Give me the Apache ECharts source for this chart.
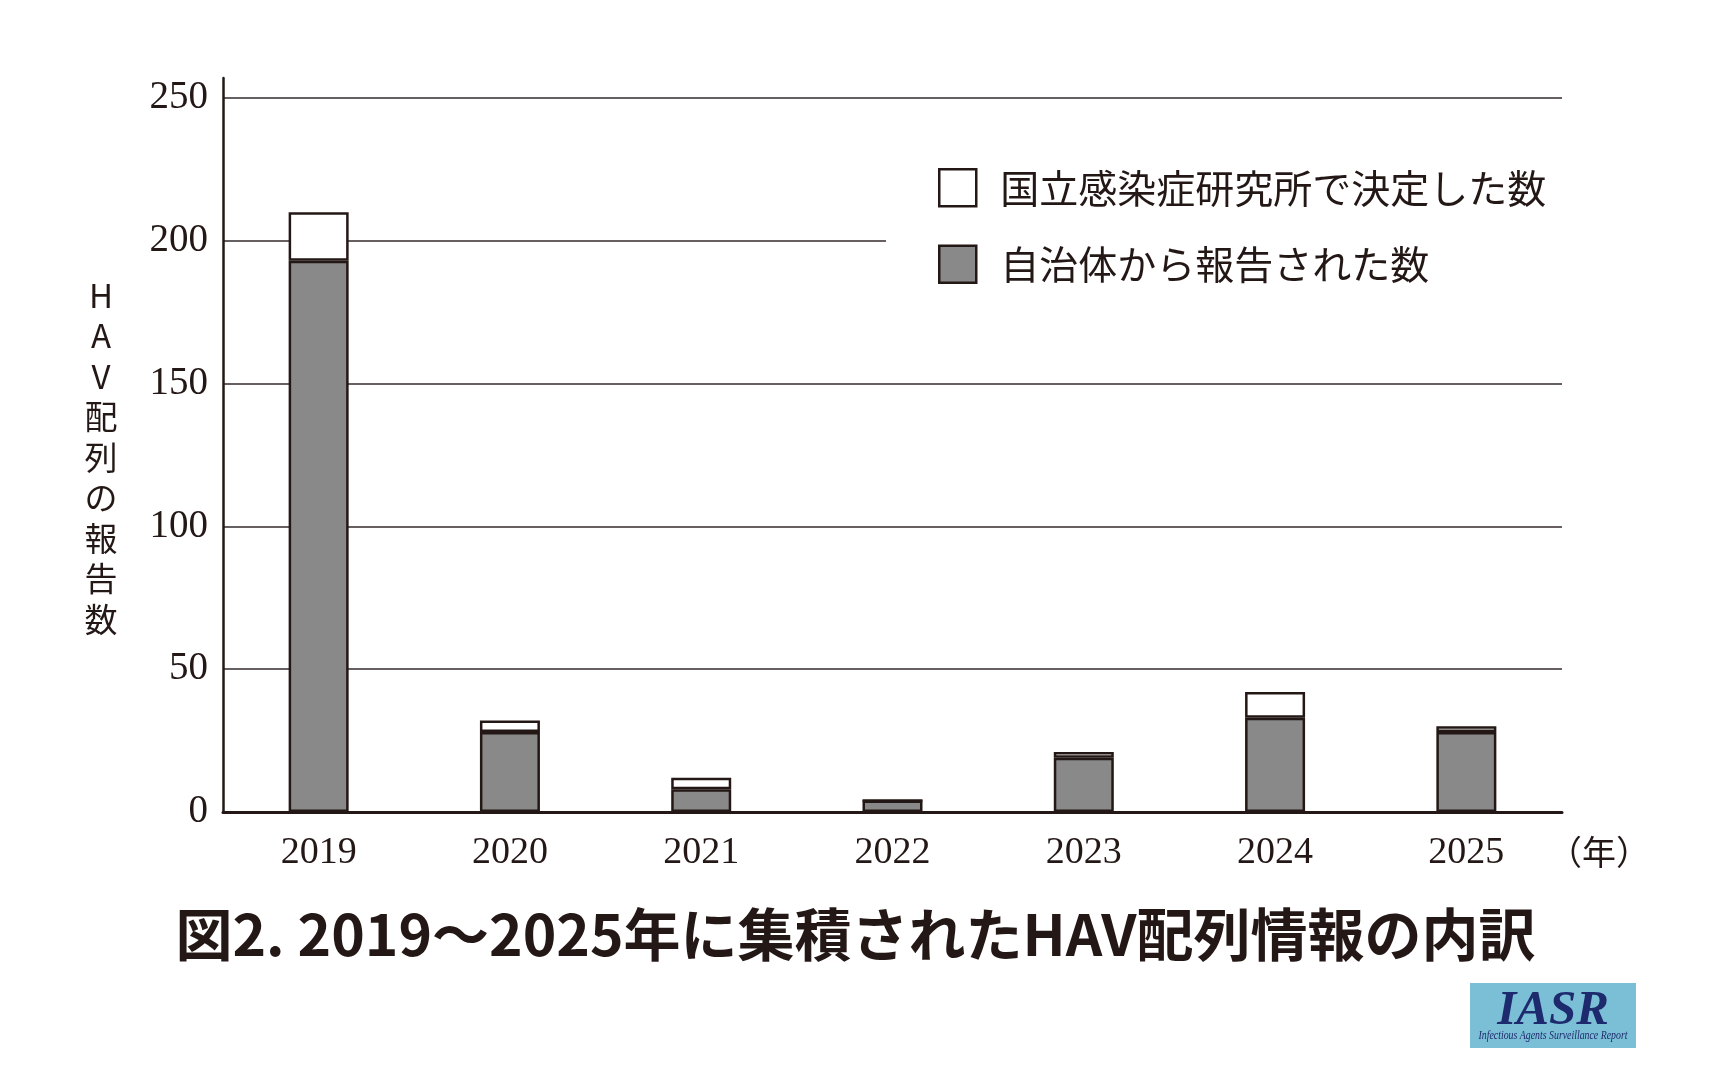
<!DOCTYPE html>
<html>
<head>
<meta charset="utf-8">
<script src="https://cdn.jsdelivr.net/npm/echarts@6/dist/echarts.min.js"></script>
<style>
html,body{margin:0;padding:0;background:#fff;}
#chart{width:1711px;height:1080px;}
</style>
</head>
<body>
<div id="chart"></div>
<script>
// ---- data ----
var years = ['2019', '2020', '2021', '2022', '2023', '2024', '2025'];
var municipalCounts = [193, 28, 8, 4, 19, 33, 28];   // 自治体から報告された数
var niidCounts = [17, 4, 4, 0, 2, 9, 2];             // 国立感染症研究所で決定した数
var yTicks = [0, 50, 100, 150, 200, 250];
var seriesNames = ['国立感染症研究所で決定した数', '自治体から報告された数'];
var titleText = '図2. 2019～2025年に集積されたHAV配列情報の内訳';
var yAxisName = 'HAV配列の報告数';
var xAxisName = '（年）';

var ink = '#231815';
var cjk = '"Noto Sans CJK JP", "Noto Sans", sans-serif';
var serif = '"Liberation Serif", "DejaVu Serif", serif';

var chart = echarts.init(document.getElementById('chart'), null, {renderer: 'canvas'});
chart.setOption({
  backgroundColor: '#fff',
  animation: false,
  title: {
    text: titleText,
    left: 'center',
    top: 901,
    textStyle: {fontFamily: cjk, fontSize: 57, fontWeight: 'bold', color: ink, lineHeight: 57}
  },
  legend: {
    orient: 'vertical',
    left: 886,
    top: 138,
    padding: [30, 40, 30, 52],
    backgroundColor: '#fff',
    itemWidth: 37,
    itemHeight: 37,
    itemGap: 37,
    icon: 'rect',
    data: seriesNames,
    textStyle: {fontFamily: cjk, fontSize: 39, color: ink, padding: [0, 0, 0, 19]},
    itemStyle: {borderColor: ink, borderWidth: 2.5}
  },
  grid: {left: 223, right: 149, top: 78, bottom: 268, containLabel: false, outerBoundsMode: 'none'},
  xAxis: {
    type: 'category',
    data: years,
    boundaryGap: true,
    axisLine: {lineStyle: {color: ink, width: 3}},
    axisTick: {show: false},
    axisLabel: {fontFamily: serif, fontSize: 38, color: ink, margin: 22},
    name: xAxisName,
    nameLocation: 'end',
    nameGap: -14,
    nameTextStyle: {fontFamily: cjk, fontSize: 34, color: ink, align: 'left', verticalAlign: 'top', padding: [23, 0, 0, 0]}
  },
  yAxis: {
    type: 'value',
    min: yTicks[0],
    max: 257,
    interval: yTicks[1] - yTicks[0],
    axisLine: {show: true, lineStyle: {color: ink, width: 2.5}},
    axisTick: {show: false},
    axisLabel: {fontFamily: serif, fontSize: 39, color: ink, margin: 15, showMaxLabel: false,
      formatter: function (v) { return yTicks.indexOf(v) >= 0 ? String(v) : ''; }},
    splitLine: {show: true, showMaxLine: false, lineStyle: {color: '#332d2b', width: 1.6}}
  },
  series: [
    {
      name: seriesNames[1],
      type: 'bar',
      stack: 'total',
      barWidth: 60,
      data: municipalCounts,
      itemStyle: {color: '#898989', borderColor: ink, borderWidth: 2.5},
      z: 2
    },
    {
      name: seriesNames[0],
      type: 'bar',
      stack: 'total',
      barWidth: 60,
      data: niidCounts,
      itemStyle: {color: '#ffffff', borderColor: ink, borderWidth: 2.5},
      z: 2
    }
  ],
  graphic: [
    {
      type: 'text',
      x: 101,
      y: 275,
      style: {text: yAxisName.split('').join('\n'), fontFamily: cjk, fontSize: 33, lineHeight: 40.5,
        fill: ink, align: 'center', verticalAlign: 'top'}
    },
    {
      type: 'group',
      left: 1470,
      top: 983,
      children: [
        {type: 'rect', shape: {x: 0, y: 0, width: 166, height: 65}, style: {fill: '#7bbfd6'}},
        {type: 'text', x: 83, y: 4, style: {text: 'IASR', fontFamily: serif, fontStyle: 'italic', fontWeight: 'bold', fontSize: 49,
          fill: '#1e2a6e', align: 'center', verticalAlign: 'top', textShadowColor: '#ffffff',
          textShadowOffsetX: -3, textShadowOffsetY: -1, textShadowBlur: 0}},
        {type: 'text', x: 83, y: 53, scaleX: 0.82, originX: 0, style: {text: 'Infectious Agents Surveillance Report', fontFamily: serif,
          fontStyle: 'italic', fontSize: 12, fill: '#1e2a6e', align: 'center', verticalAlign: 'middle'}}
      ]
    }
  ]
});
</script>
</body>
</html>
